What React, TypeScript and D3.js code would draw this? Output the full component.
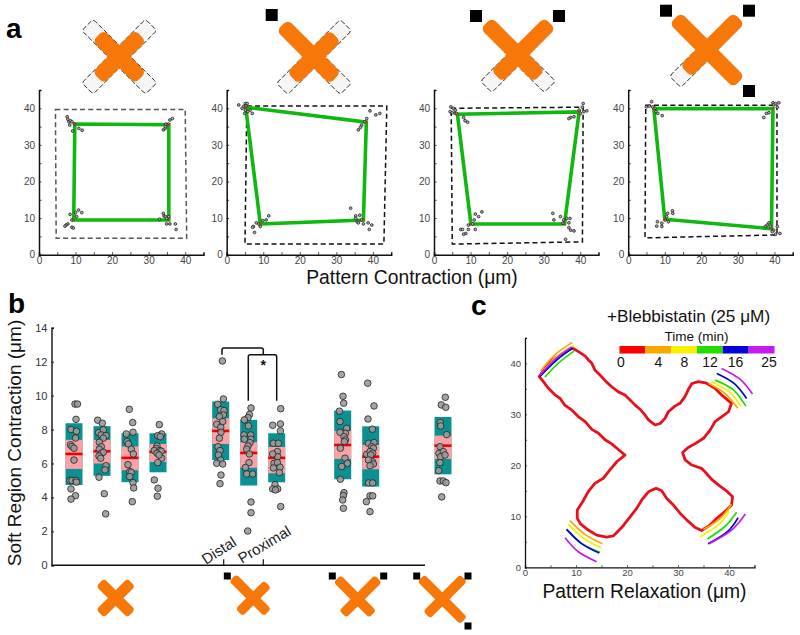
import React, { useEffect, useRef } from "react";
import * as d3 from "d3";

type Pt = [number, number];

// panel a: green quads, dashed outlines and the tracked points per pattern
const quads: Pt[][] = [
  [[9.5, 9.5], [35.5, 9.5], [35.5, 35.5], [9.8, 35.7]],
  [[9.2, 8.4], [37.4, 9.5], [38.2, 36.2], [5.2, 40.3]],
  [[10.1, 8.4], [35.7, 8.4], [39.7, 39], [6.4, 38.4]],
  [[10, 9.7], [39.2, 7.1], [39.6, 39.9], [7, 39.9]],
];
const outlines: Pt[][] = [
  [[4.5, 39.7], [40, 39.7], [40.4, 4.5], [4.7, 4.5]],
  [[5.5, 40.6], [43.8, 40.6], [43, 2.9], [5, 2.9]],
  [[4.7, 40], [40.8, 40.3], [40.6, 3.5], [5, 2.9]],
  [[4.8, 40.8], [40.7, 40.8], [40.7, 5.4], [4.6, 4.6]],
];
const tracked: Pt[][] = [
  [[7.7, 37.7], [7.9, 37], [8.2, 36.3], [8.6, 36.6], [9, 36.3], [8.4, 35.4], [9.7, 35.7], [10.9, 34.5], [11.8, 34], [9.2, 33.8],
   [36.5, 37.2], [35.8, 36.8], [35.4, 35.7], [34.7, 35.7], [34, 34.1], [34.5, 34.5], [34.6, 35],
   [10.8, 12.2], [10, 11.5], [11.7, 11.5], [8.5, 11], [10.3, 10.4], [9, 9.5], [7.9, 8.4], [7.4, 8.1], [7.1, 7.8], [9, 7.5], [9.4, 7.3],
   [34, 11.3], [34.2, 10.6], [34.6, 10.4], [34.9, 9.9], [35.5, 10.4], [33, 9.7], [34.9, 8.4], [35.8, 8.4], [37.3, 8.4], [37.5, 6.9]],
  [[3.3, 40.9], [5.1, 41.3], [5.6, 41.3], [4.7, 40.6], [5.3, 40.6], [4.2, 40], [5.1, 39.5], [4.9, 38.6], [5.8, 39.1], [6.4, 39.5], [7, 38.6],
   [39.2, 39.3], [40.8, 38.2], [41.9, 38.6], [38.3, 37.2], [37.8, 36.3], [36.9, 35.4], [36, 34.1], [36.6, 34.8],
   [11.5, 10.6], [10.8, 9.5], [9.9, 9.3], [8.1, 8.7], [7.3, 7.7], [7.1, 7.5], [7.6, 6.1], [9.2, 7.7], [8.8, 8.4],
   [33.9, 12.7], [35.3, 10.6], [36.4, 10.8], [35.3, 9.9], [35.7, 9], [36.9, 9.5], [38.7, 8.7], [39.7, 8.1], [39, 6.9], [37.4, 8.4], [36, 8.7]],
  [[4.6, 40.4], [5.3, 40], [5.8, 39.5], [4.4, 39.1], [5, 38.8], [5.8, 38.6], [6.2, 38.6], [8.1, 37.5], [8.5, 36.6], [9.2, 36.2],
   [40.8, 41.3], [40.6, 40.3], [39.7, 39.5], [41, 39.1], [41.8, 39.3], [40.1, 38.6], [38.3, 37.7], [37.4, 37.5], [36.9, 37.2],
   [13.1, 11.7], [11.3, 11.1], [12.2, 10.4], [11, 9.5], [10.6, 8.4], [9.4, 8.1], [7.3, 6.9], [7.8, 6.9], [9.4, 6.9], [8.7, 5.8], [8.1, 5.6], [11.3, 6.9],
   [32.5, 11.3], [32.8, 9.5], [34.6, 10.4], [35.5, 9.5], [36.3, 9.9], [37.2, 9.9], [35.3, 8.6], [36.9, 8.7], [36.9, 7.4], [37.4, 6.7], [38.3, 6.5], [36, 4.2]],
  [[5, 40.4], [5.8, 40.6], [6.4, 41.8], [6.7, 40.4], [7.3, 40], [7.6, 39.1], [8.1, 38.6], [9.3, 38],
   [39.6, 41.5], [40.3, 41.3], [41.2, 41.5], [39.8, 40.9], [40.8, 40.3], [38.5, 38.8], [37.1, 37.5], [37.8, 38.6],
   [12.1, 12], [12.2, 11.3], [10.8, 11.3], [10.5, 10.4], [10.1, 9.5], [8, 9], [9.2, 8.6], [7.8, 7.8], [9.2, 7.7], [11, 9],
   [38.5, 8.7], [38, 8.1], [38.9, 7.7], [37.5, 7.7], [40.8, 7.7], [39.8, 6.7], [40.3, 5.6], [41.5, 5.8], [39.4, 6.3]],
];

// panel b: one entry per bar
const barNames = ["A1", "A2", "A3", "A4", "B1", "B2", "B3", "C1", "C2", "D1"];
const barTop = [8.37, 8.2, 7.78, 7.78, 9.65, 8.57, 7.78, 9.12, 8.19, 8.74];
const barBottom = [4.73, 5.27, 4.9, 5.48, 6.2, 4.7, 4.89, 5.07, 4.64, 5.36];
const pinkTop = [7.39, 7.39, 7.0, 7.15, 8.66, 7.25, 6.97, 7.92, 7.09, 7.64];
const pinkBottom = [5.68, 6.0, 5.6, 6.09, 7.15, 5.75, 5.42, 6.27, 5.66, 6.27];
const barMean = [6.56, 6.72, 6.33, 6.68, 7.92, 6.62, 6.33, 7.09, 6.4, 7.05];
const barJitter: number[][] = [
  [1, 3.5, 2, -3, 2.5, 1.5, -3.5, -2, 0, 0, -4, -2, 2, 2.5, -3, 1.5, -3],
  [-4.3, 0.3, -3.3, 1.3, -0.7, 4, 1.3, -2.7, -0.7, -2.7, -0.7, 1.3, -3, -1.3, 4, 3, -3, 2.3, 3.7],
  [-0.7, 2.7, -3.7, 3, -3, -1.7, 1.3, 3.3, -2, -0.3, 1.3, -0.3, 3, 3.7, 2.3],
  [1.3, 3.7, -0.3, 2.3, -1, -1.7, -3.7, 1.7, 3.3, -1, 3.7, 1, -0.3, -3.7, 0, -0.7],
  [1.7, 2.7, -3, 0, 3.3, 2.7, -1.3, 2, -4, 0, 0.3, -1.3, -2.7, -0.7, -2.3, 0, -4, 2, 0.3, -0.7],
  [2.3, 0.7, -0.7, -4.3, -0.3, -4.7, 2, -4.3, 2.3, 1.3, -0.7, -2, 0.7, 0.3, -3.3, -2, 4, 2.3, 2.3, -1],
  [4, -4, 3.7, 3.7, -3.3, 1.7, 0.7, 1, -4, -2.7, 0.7, -3.3, 3.3, 2.7, -1.7, -4, 1, -1.3, 4],
  [-1.3, 0.3, 1, -3.3, -2.7, 4, 2.7, -2.7, 1.3, 2.7, 1.7, -2.3, 2.3, 4.7, -1, -2.3, 1.3, 0.7, 0, 0.7],
  [-3, 3.3, -2.7, 1.7, -2.3, 3.3, 1, 2.7, -4, -0.7, 2, 0, 1.7, -2.3, 2.7, -0.7, -2, 2, -0.7, 2, -4.3, -0.7],
  [2.3, -1.7, 2.7, -2.7, -2.3, 3.7, -3, -4, 0.3, -2.3, 2, -3, -4.3, -3, 0.3, 3, -1.3],
];
const barValues: number[][] = [
  [9.5, 9.5, 8.6, 8.0, 7.9, 7.5, 7.1, 7.0, 6.9, 6.2, 5.0, 5.0, 5.0, 4.9, 4.5, 4.1, 3.9],
  [8.55, 8.37, 7.82, 7.98, 7.68, 7.64, 7.49, 7.25, 6.99, 6.84, 6.6, 6.66, 6.44, 6.31, 5.87, 5.62, 5.19, 4.22, 3.03],
  [9.19, 8.41, 7.74, 7.84, 7.29, 7.15, 6.84, 6.56, 5.93, 5.52, 5.48, 5.23, 4.87, 4.56, 3.75],
  [8.29, 7.74, 7.64, 7.58, 7.03, 6.88, 6.76, 6.76, 6.72, 6.6, 6.31, 6.5, 6.05, 5.03, 4.54, 4.07],
  [12.04, 9.8, 9.49, 9.16, 9.12, 8.86, 8.76, 8.47, 8.31, 8.13, 7.84, 7.49, 6.99, 6.76, 6.5, 6.2, 6.01, 5.97, 5.32, 4.81],
  [9.27, 8.88, 8.7, 8.57, 8.21, 7.68, 7.68, 7.43, 7.43, 7.23, 7.03, 6.84, 6.56, 6.05, 5.76, 5.38, 5.38, 3.73, 3.1, 2.02],
  [9.23, 8.25, 8.33, 7.92, 7.19, 7.19, 6.7, 6.4, 6.56, 6.01, 6.05, 5.74, 5.78, 5.46, 4.75, 4.5, 4.5, 4.44, 3.46],
  [11.24, 9.96, 9.55, 9.08, 8.47, 8.07, 7.78, 7.84, 7.58, 7.39, 7.29, 6.9, 6.31, 6.01, 5.82, 5.07, 4.28, 4.11, 3.85, 3.36],
  [10.73, 9.39, 8.62, 8.02, 7.19, 7.23, 6.99, 6.9, 6.54, 6.7, 6.6, 6.5, 6.11, 6.21, 5.97, 5.87, 4.85, 4.85, 4.09, 4.09, 3.75, 3.16],
  [9.9, 9.45, 9.31, 8.41, 8.21, 7.7, 6.99, 6.6, 6.7, 6.4, 6.5, 6.05, 5.58, 4.97, 4.97, 4.87, 4.03],
];

// panel c: cell outline at t = 0 and the retracting arm edges over time
const outlineC: Pt[] = [
  [2.8, 37.4], [3.8, 38.9], [4.9, 40.3], [6, 41.1], [7.2, 41.8], [8.3, 42.5], [9.35, 42.95], [10.8, 42.1], [11.8, 41.4], [12.5, 40.6],
  [13.1, 40], [13.7, 38.7], [14.7, 37.7], [15.9, 36.4], [17, 35.4], [18.3, 34.4], [19.6, 33.8], [20.6, 32.8], [21.6, 31.8], [22.55, 31],
  [23.5, 29.9], [24.2, 28.9], [25.5, 27.9], [26.5, 28.2], [27.45, 29.2], [28.1, 30.5], [29.4, 31.6], [30.4, 32.15], [31.4, 33.5], [32, 34.8],
  [32.7, 36], [34, 36.4], [35.6, 36.1], [37.25, 35.1], [38.55, 33.8], [40.5, 32.15], [39.9, 30.5], [38.55, 29.5], [37.25, 28.55], [36.3, 26.9],
  [35, 25.3], [33.3, 24.2], [32, 23.5], [30.9, 22.5], [31.4, 21.05], [32.7, 20.05], [34.6, 19.4], [35.6, 18.4], [36.6, 17.25], [37.9, 16.15],
  [39.5, 15], [40.7, 13.85], [40.5, 12.2], [39.2, 10.9], [37.6, 9.6], [36.3, 8.3], [34.6, 7.2], [33.3, 7.85], [31.7, 9.3], [30.4, 10.6],
  [29.1, 12.2], [27.8, 13.5], [26.8, 15], [25.7, 15.5], [24.2, 14.8], [22.9, 13.2], [21.9, 11.55], [20.6, 9.9], [19, 7.85], [17.3, 6.15],
  [16, 5.9], [14.05, 6.3], [12.4, 7.3], [10.9, 8.5], [10.25, 9.6], [10.25, 11.25], [11.3, 12.85], [12.4, 14.85], [13.7, 16.45], [15.35, 17.45],
  [16.65, 19.1], [18, 20.7], [19.6, 22], [18.3, 23.1], [17, 24.2], [15.7, 25], [14.4, 26.3], [13.1, 27.05], [11.8, 28.55], [10.5, 29.5],
  [9.15, 30.85], [7.8, 31.8], [6.9, 33.1], [5.9, 33.8], [4.6, 35.1], [3.6, 36.4],
];
const timeColors = ["#ff0000", "#f9a800", "#f8f000", "#22dd00", "#0000d8", "#c81af0"];
const timeLabels = ["0", "4", "8", "12", "16", "25"];
// arm edges: orange, yellow, green, blue, purple for each of the four arms
const edgesC: Pt[][][] = [
  [[[3.05, 38.5], [5.9, 41.7], [9.3, 44.1]], [[3.3, 38.1], [6.2, 41.3], [9.6, 43.5]], [[3.9, 37.3], [6.5, 40], [9.6, 42.4]], [[2.9, 37.4], [6.2, 40.65], [9.35, 43]], [[2.9, 37.6], [5.9, 40.8], [9.15, 43.2]]],
  [[[35.95, 36.1], [39.2, 34.1], [41.7, 31.2]], [[36.6, 36.4], [40.2, 34.3], [42.3, 31.5]], [[37.25, 36.7], [40.85, 34.8], [43.3, 31.6]], [[37.6, 38], [41, 36.05], [43.45, 33.1]], [[38.55, 39], [42.15, 36.9], [44.6, 34]]],
  [[[8.8, 9.15], [11.75, 6.45], [15.15, 4.6]], [[8.5, 8.4], [11.45, 5.7], [14.9, 3.85]], [[8.15, 7.5], [11.1, 4.7], [14.7, 2.95]], [[8.15, 7.45], [11.1, 4.65], [14.55, 2.8]], [[7.85, 5.8], [10.45, 3.05], [14.05, 1.1]]],
  [[[35, 7.45], [38.2, 9.5], [40.5, 12.35]], [[34.3, 6], [37.9, 8.3], [40.05, 11.05]], [[35.75, 5.55], [39.2, 8], [41.5, 10.8]], [[35.9, 4.6], [39.7, 7], [41.8, 9.75]], [[36.1, 4.6], [40.5, 7.3], [43.2, 10.45]]],
];

const FONT = "'Liberation Sans', Arial, sans-serif";
const MU = "\u03bc";

const App = () => {
  const ref = useRef<SVGSVGElement>(null);

  useEffect(() => {
    const svg = d3.select(ref.current);
    svg.selectAll("*").remove();
    svg.style("font-family", FONT);

    const label = (t: string, x: number, y: number, size: number, opts: any = {}) =>
      svg
        .append("text")
        .attr("x", x)
        .attr("y", y)
        .attr("font-size", size)
        .attr("font-weight", opts.weight || "normal")
        .attr("text-anchor", opts.anchor || "middle")
        .attr("fill", opts.fill || "#111")
        .attr("transform", opts.rotate ? `rotate(${opts.rotate} ${x} ${y})` : null)
        .text(t);

    // cross = orange bars on a diagonal; ghost arms show the full length when dashed
    const drawCross = (cx: number, cy: number, w: number, arms: number[], full: number, dashed: boolean) => {
      const g = svg.append("g").attr("transform", `translate(${cx},${cy})`);
      if (dashed) {
        [225, 315, 45, 135].forEach((ang, i) => {
          if (arms[i] >= full) return;
          g.append("rect")
            .attr("x", 0).attr("y", -w / 2)
            .attr("width", full).attr("height", w)
            .attr("rx", 3)
            .attr("transform", `rotate(${ang})`)
            .attr("fill", "#f6f6f6")
            .attr("stroke", "#222")
            .attr("stroke-width", 0.9)
            .attr("stroke-dasharray", "5 2");
        });
      }
      [225, 315, 45, 135].forEach((ang, i) => {
        g.append("rect")
          .attr("x", 0).attr("y", -w / 2)
          .attr("width", arms[i]).attr("height", w)
          .attr("rx", w * 0.33)
          .attr("transform", `rotate(${ang})`)
          .attr("fill", "#f77708");
      });
    };
    const square = (x: number, y: number, s: number) =>
      svg.append("rect").attr("x", x - s / 2).attr("y", y - s / 2).attr("width", s).attr("height", s).attr("fill", "#000");

    // arm order: top-left, top-right, bottom-right, bottom-left
    drawCross(119.3, 56.7, 16, [30, 30, 30, 30], 45, true);
    drawCross(314, 57, 16, [45, 30, 30, 30], 45, true);
    drawCross(518, 55, 16, [45, 45, 30, 30], 45, true);
    drawCross(707, 50, 16, [45, 45, 45, 30], 45, true);
    square(271.7, 15, 12);
    square(476, 16, 12);
    square(559, 16, 12);
    square(666, 10.7, 12);
    square(749, 10.7, 12);
    square(749, 91, 12);

    drawCross(115.7, 598, 11, [22, 22, 22, 22], 22, false);
    drawCross(253.3, 598.3, 10, [29, 20, 20, 20], 20, false);
    drawCross(357.7, 599.3, 10, [29, 29, 21, 21], 21, false);
    drawCross(442.3, 599.3, 10, [30, 30, 30, 22], 22, false);
    [[227.3, 576], [332.3, 576], [383.7, 576], [416.7, 576], [468, 576], [468, 626]].forEach(([x, y]) => square(x, y, 7));

    // ---- panel a
    const panelX = [39, 226.7, 434, 628.2];
    const panelW = 164.5;
    const yA = d3.scaleLinear().domain([0, 45]).range([254.7, 90]);
    const lineA = d3.line<Pt>();
    panelX.forEach((x0, p) => {
      const xA = d3.scaleLinear().domain([0, 45]).range([x0, x0 + panelW]);
      const g = svg.append("g");
      const toXY = (d: Pt): Pt => [xA(d[0]), yA(d[1])];

      g.append("path")
        .attr("d", lineA.curve(d3.curveLinearClosed)(outlines[p].map(toXY)))
        .attr("fill", "none")
        .attr("stroke", p === 0 ? "#555" : "#111")
        .attr("stroke-width", 1.5)
        .attr("stroke-dasharray", "5 3.2");
      g.append("path")
        .attr("d", lineA.curve(d3.curveLinearClosed)(quads[p].map(toXY)))
        .attr("fill", "none")
        .attr("stroke", "#0fb80f")
        .attr("stroke-width", 3.6);
      g.selectAll("circle.pt")
        .data(tracked[p])
        .enter()
        .append("circle")
        .attr("cx", (d) => xA(d[0]))
        .attr("cy", (d) => yA(d[1]))
        .attr("r", 1.4)
        .attr("fill", "#aaa")
        .attr("stroke", "#111")
        .attr("stroke-width", 0.7);
      g.selectAll("circle.mk")
        .data(quads[p])
        .enter()
        .append("circle")
        .attr("cx", (d) => xA(d[0]))
        .attr("cy", (d) => yA(d[1]))
        .attr("r", 1.1)
        .attr("fill", "#d42a10");

      const axX = g.append("g").attr("transform", `translate(0,${yA(0)})`).call(
        d3.axisBottom(xA).tickValues(d3.range(0, 45, 5)).tickSize(-2.5).tickPadding(2)
          .tickFormat((d: any) => (d % 10 === 0 ? String(d) : ""))
      );
      const axY = g.append("g").attr("transform", `translate(${x0},0)`).call(
        d3.axisLeft(yA).tickValues(d3.range(0, 45, 5)).tickSize(-2.5).tickPadding(4)
          .tickFormat((d: any) => (d % 10 === 0 ? String(d) : ""))
      );
      [axX, axY].forEach((a) => {
        a.select(".domain").attr("stroke", "#111").attr("stroke-width", 1.5);
        a.selectAll(".tick line").attr("stroke", "#111").attr("stroke-width", 0.8);
        a.selectAll("text").attr("font-size", 10).attr("font-family", FONT).attr("fill", "#444");
      });
    });

    // ---- panel b
    const xB = d3
      .scaleOrdinal<string, number>()
      .domain(barNames)
      .range([74, 102, 130, 158, 220.7, 248.7, 276.7, 342.7, 370.7, 443]);
    const yB = d3.scaleLinear().domain([0, 14]).range([565.3, 327.7]);
    const barW = 17;
    const gBars = svg.append("g");
    barNames.forEach((name, i) => {
      const cx = xB(name);
      gBars.append("rect").attr("x", cx - barW / 2).attr("width", barW)
        .attr("y", yB(barTop[i])).attr("height", yB(barBottom[i]) - yB(barTop[i])).attr("fill", "#0b9191");
      gBars.append("rect").attr("x", cx - barW / 2).attr("width", barW)
        .attr("y", yB(pinkTop[i])).attr("height", yB(pinkBottom[i]) - yB(pinkTop[i])).attr("fill", "#fba2a6");
      gBars.append("line").attr("x1", cx - barW / 2).attr("x2", cx + barW / 2)
        .attr("y1", yB(barMean[i])).attr("y2", yB(barMean[i]))
        .attr("stroke", "#f00000").attr("stroke-width", 2.6);
      barValues[i].forEach((v, k) => {
        gBars.append("circle")
          .attr("cx", cx + (barJitter[i][k] || 0))
          .attr("cy", yB(v))
          .attr("r", 3.3)
          .attr("fill", "#9a9a9a")
          .attr("fill-opacity", 0.9)
          .attr("stroke", "#222")
          .attr("stroke-width", 0.8);
      });
    });

    const axYB = svg.append("g").attr("transform", "translate(51.5,0)").call(
      d3.axisLeft(yB).tickValues(d3.range(0, 15, 2)).tickSize(-2.5).tickPadding(4)
    );
    axYB.select(".domain").attr("stroke", "#111").attr("stroke-width", 1.4);
    axYB.selectAll(".tick line").attr("stroke", "#111");
    axYB.selectAll("text").attr("font-size", 11).attr("font-family", FONT).attr("fill", "#333");

    svg.append("line").attr("x1", 51.5).attr("x2", 425).attr("y1", yB(0)).attr("y2", yB(0)).attr("stroke", "#111").attr("stroke-width", 1.4);
    [223.7, 263.3].forEach((x) =>
      svg.append("line").attr("x1", x).attr("x2", x).attr("y1", yB(0)).attr("y2", yB(0) - 6).attr("stroke", "#111").attr("stroke-width", 1.2)
    );
    label("Distal", 206, 565, 15, { rotate: -33, anchor: "start", fill: "#222" });
    label("Proximal", 242, 564, 15, { rotate: -31, anchor: "start", fill: "#222" });

    // significance brackets
    const bracket = (x1: number, x2: number, yTop: number, yEnd1: number, yEnd2: number) =>
      svg.append("path")
        .attr("d", `M${x1},${yB(yEnd1)}V${yB(yTop) + 2}Q${x1},${yB(yTop)} ${x1 + 2},${yB(yTop)}H${x2 - 2}Q${x2},${yB(yTop)} ${x2},${yB(yTop) + 2}V${yB(yEnd2)}`)
        .attr("fill", "none").attr("stroke", "#111").attr("stroke-width", 1.5);
    bracket(222, 263.3, 12.8, 12.4, 12.4);
    bracket(248.3, 276.7, 12.4, 9.7, 9.7);
    label("*", 263.3, yB(12) + 8, 14, { weight: "bold" });

    // ---- panel c
    const xC = d3.scaleLinear().domain([0, 45]).range([525, 754.5]);
    const yC = d3.scaleLinear().domain([0, 45]).range([567.3, 337.8]);
    const arcLine = d3.line<Pt>().x((d) => xC(d[0])).y((d) => yC(d[1])).curve(d3.curveNatural);
    svg.append("path")
      .attr("d", d3.line<Pt>().x((d) => xC(d[0])).y((d) => yC(d[1])).curve(d3.curveLinearClosed)(outlineC))
      .attr("fill", "none").attr("stroke", "#e8101c").attr("stroke-width", 2.8).attr("stroke-linejoin", "round");
    edgesC.forEach((arm) =>
      arm.forEach((edge, k) =>
        svg.append("path").attr("d", arcLine(edge)).attr("fill", "none")
          .attr("stroke", timeColors[k + 1]).attr("stroke-width", 1.7)
      )
    );

    const axXC = svg.append("g").attr("transform", `translate(0,${yC(0)})`).call(
      d3.axisBottom(xC).tickValues(d3.range(0, 45, 5)).tickSize(-2).tickPadding(2)
        .tickFormat((d: any) => (d % 10 === 0 ? String(d) : ""))
    );
    const axYC = svg.append("g").attr("transform", `translate(${xC(0)},0)`).call(
      d3.axisLeft(yC).tickValues(d3.range(0, 45, 5)).tickSize(-2).tickPadding(4)
        .tickFormat((d: any) => (d % 10 === 0 ? String(d) : ""))
    );
    [axXC, axYC].forEach((a) => {
      a.select(".domain").attr("stroke", "#111").attr("stroke-width", 1.3);
      a.selectAll(".tick line").attr("stroke", "#111").attr("stroke-width", 0.7);
      a.selectAll("text").attr("font-size", 9.5).attr("font-family", FONT).attr("fill", "#444");
    });

    // time legend
    const legendX = d3.scaleBand<number>().domain(d3.range(timeColors.length)).range([619.5, 774.5]);
    timeColors.forEach((c, i) =>
      svg.append("rect").attr("x", legendX(i)!).attr("y", 346).attr("width", legendX.bandwidth()).attr("height", 7.5).attr("fill", c)
    );
    const legendLabelX = d3.scaleOrdinal<string, number>().domain(timeLabels).range([621, 658.5, 684.5, 710, 735.5, 769]);
    timeLabels.forEach((t) => label(t, legendLabelX(t), 367, 14, { fill: "#111" }));

    label(`+Blebbistatin (25 ${MU}M)`, 688.5, 322, 17.2);
    label("Time (min)", 696.5, 341, 13.5, { fill: "#111" });
    label(`Pattern Relaxation (${MU}m)`, 644.5, 598, 19.3);
    label(`Pattern Contraction (${MU}m)`, 412, 284, 19.3);
    label(`Soft Region Contraction (${MU}m)`, 21, 443, 19, { rotate: -90 });
    label("a", 6, 38, 28, { weight: "bold", anchor: "start", fill: "#000" });
    label("b", 8, 313, 28, { weight: "bold", anchor: "start", fill: "#000" });
    label("c", 471, 315, 28, { weight: "bold", anchor: "start", fill: "#000" });
  }, []);

  return (
    <svg
      ref={ref}
      width={800}
      height={635}
      style={{ position: "absolute", left: 0, top: 0, background: "#fff" }}
    />
  );
};

export default App;
